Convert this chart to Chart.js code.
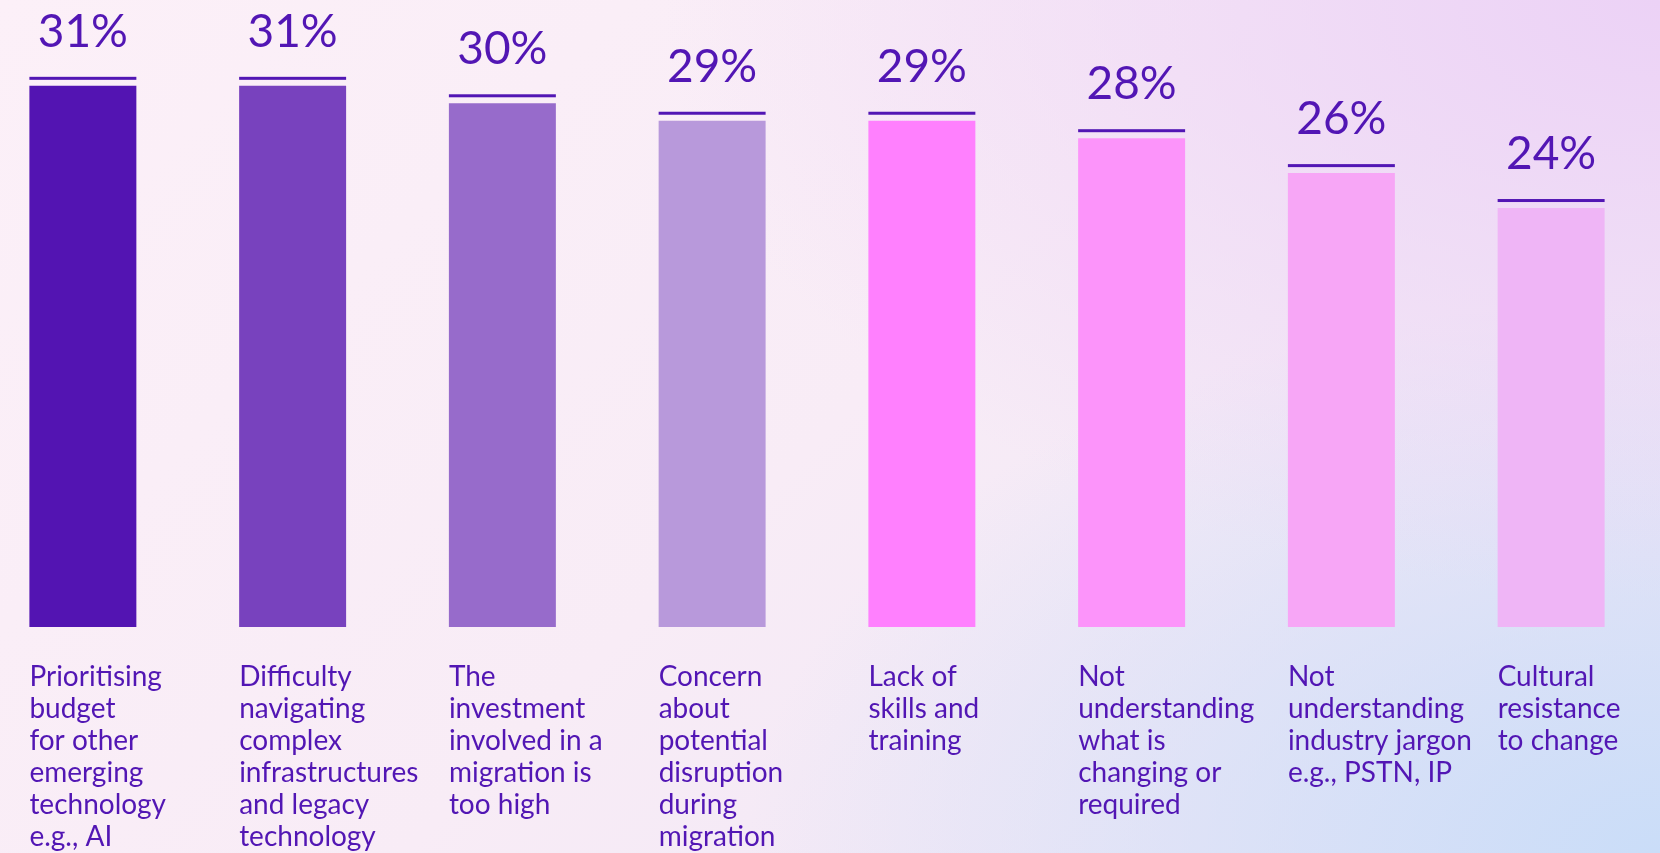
<!DOCTYPE html>
<html>
<head>
<meta charset="utf-8">
<script src="https://cdn.jsdelivr.net/npm/chart.js@4.4.0/dist/chart.umd.min.js"></script>
<style>
  html, body {
    margin: 0;
    padding: 0;
    width: 1660px;
    height: 853px;
    overflow: hidden;
    background:
      radial-gradient(ellipse 60% 70% at 100% 0%, rgba(236, 210, 246, 1) 0%, rgba(236, 210, 246, 0) 100%),
      radial-gradient(ellipse 55% 65% at 100% 100%, rgba(202, 221, 248, 1) 0%, rgba(202, 221, 248, 0) 100%),
      linear-gradient(135deg, #fcf0f8 0%, #f8ecf6 50%, #ece4f6 100%);
  }
  #wrap {
    position: absolute;
    left: -22px;
    top: 0;
    width: 1678px;
    height: 853px;
  }
</style>
</head>
<body>
<div id="wrap"><canvas id="barChart"></canvas></div>
<script>
// --- data ---
const categories = [
    ['Prioritising', 'budget', 'for other', 'emerging', 'technology', 'e.g., AI'],
    ['Difficulty', 'navigating', 'complex', 'infrastructures', 'and legacy', 'technology'],
    ['The', 'investment', 'involved in a', 'migration is', 'too high'],
    ['Concern', 'about', 'potential', 'disruption', 'during', 'migration'],
    ['Lack of', 'skills and', 'training'],
    ['Not', 'understanding', 'what is', 'changing or', 'required'],
    ['Not', 'understanding', 'industry jargon', 'e.g., PSTN, IP'],
    ['Cultural', 'resistance', 'to change']
];
const percentages = [31, 31, 30, 29, 29, 28, 26, 24];
const barColors = ['#5314b2', '#7842be', '#976bcb', '#b899db', '#ff80fe', '#fc94fa', '#f7a6f6', '#efb5f6'];

const textColor = '#5216b4';
const fontFamily = 'Lato, "Noto Sans", sans-serif';

// draws the value labels, the rule above each bar and the wrapped category text
const labelPlugin = {
    id: 'barLabels',
    afterDatasetsDraw(chart) {
        const ctx = chart.ctx;
        const meta = chart.getDatasetMeta(0);
        const area = chart.chartArea;
        ctx.save();
        meta.data.forEach((bar, i) => {
            const half = bar.width / 2;
            const left = bar.x - half;

            // rule above bar
            ctx.fillStyle = textColor;
            ctx.fillRect(left, bar.y - 9, bar.width, 3);

            // value
            ctx.font = '46px ' + fontFamily;
            ctx.textAlign = 'center';
            ctx.textBaseline = 'middle';
            ctx.fillText(percentages[i] + '%', bar.x, bar.y - 54);

            // category text
            ctx.font = '28px ' + fontFamily;
            ctx.textAlign = 'left';
            ctx.textBaseline = 'alphabetic';
            categories[i].forEach((line, j) => {
                ctx.fillText(line, left, area.bottom + 59 + j * 32);
            });
        });
        ctx.restore();
    }
};

document.addEventListener('DOMContentLoaded', function() {
    const canvas = document.getElementById('barChart');
    new Chart(canvas, {
        type: 'bar',
        data: {
            labels: categories,
            datasets: [{
                data: percentages,
                backgroundColor: barColors,
                borderWidth: 0,
                categoryPercentage: 1.0,
                barPercentage: 0.51
            }]
        },
        options: {
            responsive: true,
            maintainAspectRatio: false,
            animation: false,
            layout: {
                padding: { top: 16, bottom: 226, left: 0, right: 0 }
            },
            plugins: {
                legend: { display: false },
                tooltip: { enabled: false }
            },
            scales: {
                x: { display: false },
                y: { display: false, min: 0, max: 35 }
            }
        },
        plugins: [labelPlugin]
    });
});
</script>
</body>
</html>
